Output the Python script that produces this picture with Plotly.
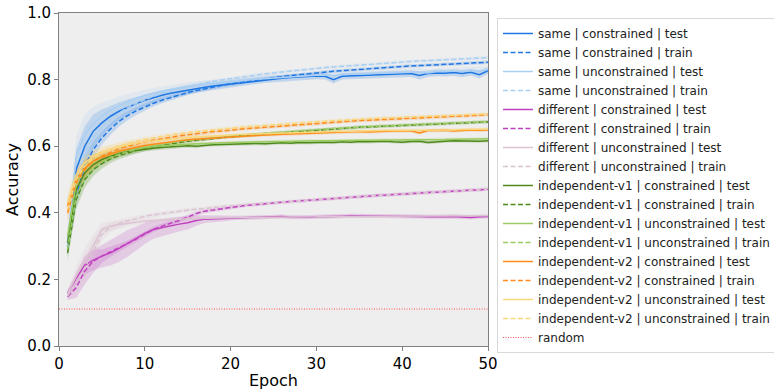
import plotly.graph_objects as go

epochs = list(range(1, 51))

same_con_test = [0.30,0.53,0.60,0.645,0.67,0.69,0.705,0.717,0.728,0.738,0.746,0.753,0.759,0.764,0.769,0.773,0.777,0.781,0.784,0.788,
                 0.791,0.794,0.797,0.80,0.802,0.804,0.806,0.808,0.81,0.811,0.81,0.80,0.81,0.811,0.81,0.812,0.814,0.815,0.816,0.817,
                 0.818,0.812,0.818,0.82,0.819,0.821,0.818,0.822,0.815,0.827]
same_con_train = [0.29,0.45,0.54,0.59,0.625,0.652,0.675,0.692,0.706,0.718,0.729,0.738,0.746,0.754,0.761,0.767,0.773,0.778,0.783,0.787,
                  0.791,0.795,0.799,0.802,0.806,0.809,0.812,0.815,0.818,0.82,0.823,0.825,0.827,0.829,0.831,0.833,0.835,0.836,0.838,0.839,
                  0.841,0.842,0.843,0.845,0.846,0.847,0.848,0.849,0.85,0.852]
same_unc_test = [0.31,0.57,0.635,0.668,0.69,0.708,0.722,0.734,0.744,0.752,0.759,0.765,0.77,0.775,0.779,0.783,0.786,0.789,0.792,0.795,
                 0.797,0.799,0.801,0.803,0.805,0.807,0.808,0.81,0.811,0.813,0.814,0.812,0.815,0.816,0.817,0.818,0.819,0.82,0.821,0.822,
                 0.822,0.823,0.82,0.824,0.825,0.826,0.824,0.827,0.826,0.83]
same_unc_train = [0.30,0.49,0.58,0.625,0.657,0.681,0.70,0.716,0.729,0.74,0.75,0.758,0.766,0.773,0.779,0.785,0.79,0.795,0.799,0.803,
                  0.807,0.811,0.814,0.817,0.82,0.823,0.826,0.829,0.831,0.834,0.836,0.838,0.84,0.842,0.844,0.846,0.848,0.85,0.851,0.853,
                  0.854,0.856,0.857,0.858,0.86,0.861,0.862,0.863,0.865,0.866]
diff_con_test = [0.158,0.203,0.243,0.258,0.27,0.28,0.293,0.308,0.323,0.338,0.35,0.356,0.36,0.366,0.37,0.377,0.381,0.382,0.383,0.384,
                 0.385,0.385,0.386,0.386,0.387,0.389,0.387,0.386,0.387,0.388,0.388,0.389,0.39,0.391,0.391,0.39,0.389,0.389,0.39,0.389,
                 0.39,0.389,0.388,0.387,0.388,0.389,0.388,0.386,0.388,0.389]
diff_con_train = [0.148,0.175,0.225,0.255,0.27,0.283,0.295,0.307,0.321,0.336,0.35,0.36,0.368,0.377,0.387,0.398,0.405,0.409,0.413,0.417,
                  0.42,0.423,0.425,0.428,0.43,0.432,0.434,0.436,0.438,0.44,0.442,0.444,0.445,0.447,0.449,0.45,0.452,0.453,0.455,0.456,
                  0.458,0.459,0.461,0.462,0.464,0.465,0.467,0.468,0.469,0.471]
diff_unc_test = [0.155,0.21,0.255,0.30,0.35,0.36,0.365,0.369,0.372,0.375,0.377,0.379,0.38,0.381,0.382,0.383,0.384,0.384,0.385,0.385,
                 0.386,0.386,0.386,0.387,0.387,0.387,0.388,0.388,0.388,0.388,0.389,0.389,0.389,0.389,0.389,0.39,0.39,0.39,0.39,0.39,
                 0.39,0.39,0.39,0.391,0.391,0.391,0.391,0.391,0.391,0.391]
diff_unc_train = [0.15,0.19,0.235,0.285,0.335,0.357,0.368,0.376,0.383,0.389,0.394,0.398,0.401,0.405,0.408,0.411,0.414,0.416,0.419,0.421,
                  0.423,0.425,0.427,0.429,0.431,0.433,0.435,0.437,0.439,0.441,0.443,0.444,0.446,0.448,0.449,0.451,0.452,0.454,0.455,0.457,
                  0.458,0.46,0.461,0.462,0.464,0.465,0.467,0.468,0.47,0.473]
ind1_con_test = [0.31,0.47,0.52,0.545,0.56,0.57,0.578,0.584,0.588,0.592,0.594,0.596,0.598,0.60,0.601,0.60,0.603,0.604,0.605,0.606,
                 0.606,0.607,0.608,0.607,0.609,0.61,0.609,0.611,0.61,0.612,0.612,0.611,0.613,0.612,0.614,0.613,0.614,0.615,0.613,0.612,
                 0.614,0.615,0.611,0.614,0.615,0.616,0.615,0.616,0.615,0.616]
ind1_con_train = [0.28,0.44,0.50,0.53,0.548,0.562,0.572,0.58,0.587,0.593,0.598,0.603,0.607,0.611,0.615,0.618,0.621,0.624,0.627,0.629,
                  0.631,0.633,0.635,0.637,0.639,0.641,0.643,0.645,0.647,0.649,0.651,0.652,0.654,0.655,0.657,0.658,0.659,0.661,0.662,0.663,
                  0.664,0.665,0.666,0.667,0.668,0.669,0.67,0.671,0.672,0.673]
ind1_unc_test = [0.33,0.49,0.535,0.555,0.568,0.577,0.584,0.589,0.593,0.596,0.599,0.601,0.603,0.605,0.606,0.607,0.608,0.61,0.61,0.611,
                 0.612,0.612,0.613,0.613,0.614,0.614,0.615,0.615,0.616,0.616,0.616,0.617,0.617,0.617,0.618,0.618,0.618,0.619,0.619,0.619,
                 0.619,0.62,0.62,0.62,0.62,0.621,0.621,0.621,0.621,0.622]
ind1_unc_train = [0.29,0.45,0.505,0.535,0.553,0.566,0.576,0.584,0.591,0.597,0.602,0.606,0.61,0.614,0.617,0.62,0.623,0.626,0.628,0.631,
                  0.633,0.635,0.637,0.639,0.641,0.643,0.645,0.646,0.648,0.65,0.651,0.653,0.654,0.656,0.657,0.659,0.66,0.661,0.662,0.664,
                  0.665,0.666,0.667,0.668,0.669,0.67,0.671,0.672,0.673,0.674]
ind2_con_test = [0.42,0.50,0.535,0.555,0.567,0.577,0.585,0.591,0.597,0.602,0.606,0.61,0.613,0.616,0.619,0.621,0.623,0.625,0.627,0.628,
                 0.63,0.631,0.632,0.634,0.635,0.636,0.637,0.638,0.639,0.64,0.641,0.642,0.641,0.643,0.644,0.643,0.645,0.645,0.646,0.645,
                 0.646,0.64,0.647,0.647,0.648,0.646,0.648,0.649,0.648,0.649]
ind2_con_train = [0.40,0.49,0.53,0.555,0.57,0.582,0.592,0.60,0.607,0.613,0.618,0.623,0.627,0.631,0.634,0.638,0.641,0.644,0.646,0.649,
                  0.651,0.653,0.655,0.657,0.659,0.661,0.663,0.665,0.667,0.669,0.671,0.672,0.674,0.675,0.677,0.678,0.679,0.681,0.682,0.683,
                  0.685,0.686,0.687,0.688,0.689,0.69,0.691,0.692,0.693,0.695]
ind2_unc_test = [0.43,0.515,0.55,0.57,0.582,0.591,0.598,0.604,0.609,0.613,0.616,0.619,0.622,0.624,0.626,0.628,0.63,0.631,0.633,0.634,
                 0.635,0.636,0.637,0.638,0.639,0.64,0.641,0.641,0.642,0.643,0.643,0.644,0.644,0.645,0.645,0.646,0.646,0.647,0.647,0.647,
                 0.648,0.648,0.648,0.649,0.649,0.649,0.65,0.65,0.65,0.651]
ind2_unc_train = [0.41,0.50,0.54,0.565,0.58,0.592,0.601,0.609,0.615,0.621,0.626,0.63,0.634,0.638,0.641,0.644,0.647,0.65,0.652,0.655,
                  0.657,0.659,0.661,0.663,0.665,0.667,0.669,0.67,0.672,0.674,0.675,0.677,0.678,0.68,0.681,0.682,0.684,0.685,0.686,0.687,
                  0.688,0.689,0.69,0.691,0.692,0.693,0.694,0.695,0.696,0.697]

# standard deviations (shaded bands)
std_same_test = [0.03,0.06,0.06,0.05,0.04,0.032,0.027,0.023,0.02,0.018,0.016,0.015,0.014,0.013,0.013,0.012,0.012,0.012,0.011,0.011,
                 0.011,0.011,0.01,0.01,0.01,0.01,0.01,0.01,0.011,0.01,0.01,0.012,0.01,0.01,0.01,0.01,0.01,0.01,0.01,0.01,
                 0.01,0.012,0.01,0.01,0.01,0.01,0.011,0.01,0.012,0.01]
std_same_train = [0.02,0.03,0.03,0.025,0.02,0.018,0.016,0.014,0.012,0.011,0.01,0.009,0.008,0.008,0.007,0.007,0.006,0.006,0.006,0.006,
                  0.005,0.005,0.005,0.005,0.005,0.005,0.005,0.005,0.005,0.005,0.005,0.005,0.005,0.005,0.005,0.005,0.005,0.005,0.005,0.005,
                  0.005,0.005,0.005,0.005,0.005,0.005,0.005,0.005,0.005,0.005]
std_diff_con_test = [0.012,0.02,0.028,0.03,0.034,0.038,0.04,0.04,0.036,0.032,0.028,0.026,0.024,0.022,0.02,0.016,0.012,0.01,0.008,0.007,
                     0.006,0.006,0.006,0.006,0.006,0.006,0.006,0.006,0.006,0.006,0.006,0.006,0.006,0.006,0.006,0.006,0.006,0.006,0.006,0.006,
                     0.006,0.006,0.006,0.006,0.006,0.007,0.007,0.006,0.006,0.006]
std_diff_other = [0.01,0.03,0.04,0.035,0.02,0.015,0.012,0.01,0.009,0.008,0.008,0.007,0.007,0.007,0.007,0.006,0.006,0.006,0.006,0.006,
                  0.005,0.005,0.005,0.005,0.005,0.005,0.005,0.005,0.005,0.005,0.005,0.005,0.005,0.005,0.005,0.005,0.005,0.005,0.005,0.005,
                  0.005,0.005,0.005,0.005,0.005,0.005,0.005,0.005,0.005,0.005]
std_ind = [0.025,0.03,0.025,0.02,0.016,0.013,0.011,0.01,0.009,0.008,0.007,0.007,0.006,0.006,0.006,0.006,0.005,0.005,0.005,0.005,
           0.005,0.005,0.005,0.005,0.005,0.005,0.005,0.005,0.005,0.005,0.005,0.005,0.005,0.005,0.005,0.005,0.005,0.005,0.005,0.005,
           0.005,0.005,0.005,0.005,0.005,0.005,0.005,0.005,0.005,0.005]

random_acc = 1 / 9

series = [
    ("same | constrained | test", same_con_test, std_same_test, "#1f77e4", "solid"),
    ("same | constrained | train", same_con_train, std_same_train, "#1f77e4", "dash"),
    ("same | unconstrained | test", same_unc_test, std_same_test, "#a9cff2", "solid"),
    ("same | unconstrained | train", same_unc_train, std_same_train, "#a9cff2", "dash"),
    ("different | constrained | test", diff_con_test, std_diff_con_test, "#c040c0", "solid"),
    ("different | constrained | train", diff_con_train, std_diff_other, "#c040c0", "dash"),
    ("different | unconstrained | test", diff_unc_test, std_diff_other, "#dcc3d2", "solid"),
    ("different | unconstrained | train", diff_unc_train, std_diff_other, "#dcc3d2", "dash"),
    ("independent-v1 | constrained | test", ind1_con_test, std_ind, "#4e8a1c", "solid"),
    ("independent-v1 | constrained | train", ind1_con_train, std_ind, "#4e8a1c", "dash"),
    ("independent-v1 | unconstrained | test", ind1_unc_test, std_ind, "#9ccb62", "solid"),
    ("independent-v1 | unconstrained | train", ind1_unc_train, std_ind, "#9ccb62", "dash"),
    ("independent-v2 | constrained | test", ind2_con_test, std_ind, "#ff8c1a", "solid"),
    ("independent-v2 | constrained | train", ind2_con_train, std_ind, "#ff8c1a", "dash"),
    ("independent-v2 | unconstrained | test", ind2_unc_test, std_ind, "#f9d77c", "solid"),
    ("independent-v2 | unconstrained | train", ind2_unc_train, std_ind, "#f9d77c", "dash"),
]


def rgba(hexc, a):
    h = hexc.lstrip("#")
    return f"rgba({int(h[0:2],16)},{int(h[2:4],16)},{int(h[4:6],16)},{a})"


fig = go.Figure()

for name, vals, sd, col, dash in series:
    lo = [v - s for v, s in zip(vals, sd)]
    hi = [v + s for v, s in zip(vals, sd)]
    fig.add_trace(go.Scatter(x=epochs, y=lo, mode="lines", line=dict(width=0, color=col),
                             showlegend=False, hoverinfo="skip"))
    fig.add_trace(go.Scatter(x=epochs, y=hi, mode="lines", line=dict(width=0, color=col),
                             fill="tonexty", fillcolor=rgba(col, 0.2), showlegend=False, hoverinfo="skip"))

for name, vals, sd, col, dash in series:
    fig.add_trace(go.Scatter(x=epochs, y=vals, mode="lines", name=name,
                             line=dict(color=col, width=1.5, dash="5px,2.5px" if dash == "dash" else "solid")))

fig.add_trace(go.Scatter(x=[epochs[0] - 1, epochs[-1]], y=[random_acc, random_acc], mode="lines", name="random",
                         line=dict(color="#ff5050", width=1, dash="1px,1.5px")))

fig.update_layout(
    width=774, height=390,
    margin=dict(l=59, r=286, t=13, b=44, autoexpand=False),
    paper_bgcolor="white", plot_bgcolor="#eeeeee",
    font=dict(family="DejaVu Sans", size=15, color="#000000"),
    legend=dict(x=1.021, y=0.985, xanchor="left", yanchor="top",
                font=dict(family="DejaVu Sans", size=12, color="#222222"),
                bordercolor="#d9d9d9", borderwidth=1, bgcolor="white",
                tracegroupgap=0, itemwidth=30, traceorder="normal", maxheight=380),
    showlegend=True,
)
fig.update_xaxes(range=[0, 50], tickvals=[0, 10, 20, 30, 40, 50], showgrid=False, zeroline=False,
                 showline=True, mirror=True, linecolor="#808080", linewidth=1,
                 ticks="outside", ticklen=4, tickcolor="#808080",
                 title=dict(text="Epoch", font=dict(size=16), standoff=2))
fig.update_yaxes(range=[0, 1], tickvals=[0, 0.2, 0.4, 0.6, 0.8, 1.0], tickformat=".1f", showgrid=False, zeroline=False,
                 showline=True, mirror=True, linecolor="#808080", linewidth=1,
                 ticks="outside", ticklen=4, tickcolor="#808080",
                 title=dict(text="Accuracy", font=dict(size=16), standoff=4))

fig.write_html("out.html", config={"displayModeBar": False},
               post_script="document.body.style.margin='0';")
